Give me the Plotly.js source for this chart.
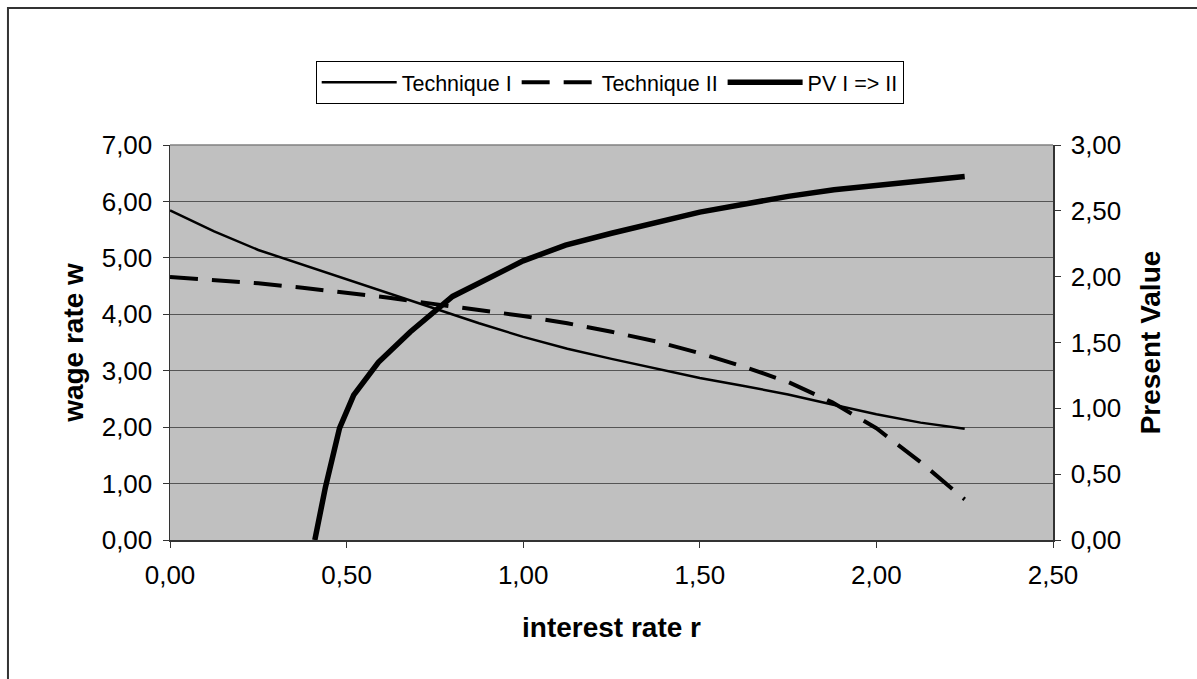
<!DOCTYPE html>
<html>
<head>
<meta charset="utf-8">
<script src="https://cdn.plot.ly/plotly-3.0.1.min.js"></script>
<style>
html,body{margin:0;padding:0;background:#fff;}
#chart{width:1197px;height:679px;}
</style>
</head>
<body>
<div id="chart"></div>
<script>
// interest rate grid for the two techniques
const rGrid = [0, 0.125, 0.25, 0.375, 0.5, 0.625, 0.75, 0.875, 1.0, 1.125, 1.25, 1.375, 1.5, 1.625, 1.75, 1.875, 2.0, 2.125, 2.25];
const wageTechI = [5.84, 5.47, 5.14, 4.88, 4.63, 4.36, 4.10, 3.84, 3.60, 3.39, 3.21, 3.04, 2.87, 2.73, 2.58, 2.40, 2.23, 2.08, 1.97];
const wageTechII = [4.66, 4.61, 4.55, 4.47, 4.38, 4.29, 4.18, 4.08, 3.97, 3.84, 3.69, 3.52, 3.31, 3.07, 2.80, 2.44, 1.98, 1.38, 0.72];
// present value of switching I => II
const rPV = [0.41, 0.44, 0.48, 0.52, 0.59, 0.68, 0.80, 1.00, 1.12, 1.25, 1.50, 1.75, 1.88, 2.00, 2.25];
const pvValues = [0.00, 0.40, 0.85, 1.10, 1.35, 1.58, 1.85, 2.12, 2.24, 2.33, 2.49, 2.61, 2.66, 2.69, 2.76];
const seriesNames = ["Technique I", "Technique II", "PV I => II"];

const FONT = "Liberation Sans, Arial, sans-serif";
const TICK = 26, TITLE = 28;

const traces = [
  {x: rGrid, y: wageTechI, name: seriesNames[0], type: "scatter", mode: "lines",
   line: {color: "#000", width: 2.5}},
  {x: rGrid, y: wageTechII, name: seriesNames[1], type: "scatter", mode: "lines",
   line: {color: "#000", width: 4, dash: "28px,14px"}},
  {x: rPV, y: pvValues, name: seriesNames[2], type: "scatter", mode: "lines", yaxis: "y2",
   line: {color: "#000", width: 5.5}}
];

const layout = {
  width: 1197, height: 679,
  margin: {l: 170, r: 144, t: 145, b: 139, pad: 0},
  paper_bgcolor: "#fff",
  plot_bgcolor: "#c0c0c0",
  separators: ",.",
  font: {family: FONT, color: "#000", size: TICK},
  showlegend: true,
  legend: {
    orientation: "h", x: 0.165, y: 1.213, xanchor: "left", yanchor: "top",
    bgcolor: "#fff", bordercolor: "#000", borderwidth: 1,
    font: {family: FONT, size: 21.5, color: "#000"},
    itemwidth: 75, tracegroupgap: 0
  },
  xaxis: {
    range: [0, 2.5], dtick: 0.5, tick0: 0, tickformat: ".2f",
    ticks: "outside", ticklen: 6, tickcolor: "#333", ticklabelstandoff: 5,
    showline: true, linecolor: "#333", linewidth: 1.5,
    showgrid: false, zeroline: false,
    tickfont: {family: FONT, size: TICK},
    title: {text: "<b>interest rate r</b>", font: {family: FONT, size: TITLE}, standoff: 28}
  },
  yaxis: {
    range: [0, 7], dtick: 1, tick0: 0, tickformat: ".2f",
    ticks: "outside", ticklen: 6, tickcolor: "#333", ticklabelstandoff: 5,
    showline: true, linecolor: "#333", linewidth: 1.5,
    showgrid: true, gridcolor: "#555", gridwidth: 1, zeroline: false,
    tickfont: {family: FONT, size: TICK},
    title: {text: "<b>wage rate w</b>", font: {family: FONT, size: TITLE}, standoff: 10}
  },
  yaxis2: {
    overlaying: "y", side: "right",
    range: [0, 3], dtick: 0.5, tick0: 0, tickformat: ".2f",
    ticks: "outside", ticklen: 6, tickcolor: "#333", ticklabelstandoff: 5,
    showline: true, linecolor: "#333", linewidth: 1.5,
    showgrid: false, zeroline: false,
    tickfont: {family: FONT, size: TICK},
    title: {text: "<b>Present Value</b>", font: {family: FONT, size: TITLE}, standoff: 20}
  },
  shapes: [
    {type: "line", xref: "paper", yref: "paper", x0: 0, x1: 1, y0: 1, y1: 1,
     line: {color: "#808080", width: 1.5}},
    {type: "rect", xref: "paper", yref: "paper", x0: -0.1835, x1: 2, y0: -1, y1: 1.3468,
     line: {color: "#333", width: 2}, fillcolor: "rgba(0,0,0,0)"}
  ]
};

Plotly.newPlot("chart", traces, layout, {displayModeBar: false, staticPlot: true});
</script>
</body>
</html>
